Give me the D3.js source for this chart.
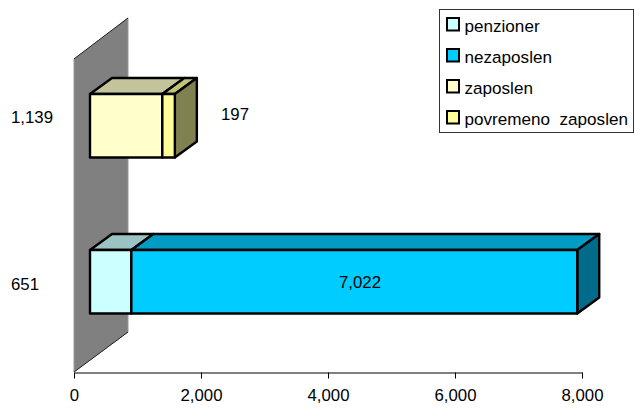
<!DOCTYPE html>
<html><head><meta charset="utf-8">
<script src="https://d3js.org/d3.v7.min.js"></script>
<style>html,body{margin:0;padding:0;background:#fff}svg{display:block}text{font-family:"Liberation Sans",Arial,sans-serif;font-size:16.8px;fill:#000}</style>
</head><body><script>
const categories=["top","bottom"];
const seriesNames=["penzioner","nezaposlen","zaposlen","povremeno  zaposlen"];
const penzioner=[0,651];
const nezaposlen=[0,7022];
const zaposlen=[1139,0];
const povremeno=[197,0];
const tickValues=[0,2000,4000,6000,8000];
const front=["#ccffff","#00ccff","#ffffcc","#ffff99"];
const topc=["#9cc3c3","#009cc3","#c3c39c","#c3c375"];
const side=["#7a9999","#006b8a","#808050","#808050"];
const values=[penzioner,nezaposlen,zaposlen,povremeno];

const svg=d3.select("body").append("svg").attr("width",634).attr("height",409);
const x=d3.scaleLinear().domain([0,8000]).range([74,582]);
const y=d3.scaleBand().domain(categories).range([48,360]);
const dx=22,dy=-16,barX=16,barH=63.5;
const line=d3.line();

// wall
svg.append("path").attr("d",line([[74,59],[128,18],[128,332],[74,372]])+"Z")
  .attr("fill","#808080").attr("stroke","#999").attr("stroke-width",1);
svg.append("path").attr("d",line([[74,59],[128,18]])).attr("stroke","#222").attr("fill","none");
svg.append("path").attr("d",line([[128,332],[74,372]])).attr("stroke","#222").attr("fill","none");

// bars
categories.forEach((c,ci)=>{
  let cum=0;
  const yt=Math.round(y(c)+(y.bandwidth()-barH)/2);
  const segs=[];
  values.forEach((v,si)=>{ if(v[ci]>0){segs.push({si,a:cum,b:cum+v[ci]});cum+=v[ci];}});
  const g=svg.append("g").attr("stroke","#000").attr("stroke-width",2.4).attr("stroke-linejoin","round");
  segs.forEach(s=>{
    const x0=x(s.a)+barX,x1=x(s.b)+barX;
    g.append("path").attr("d",line([[x0,yt],[x0+dx,yt+dy],[x1+dx,yt+dy],[x1,yt]])+"Z").attr("fill",topc[s.si]);
  });
  const last=segs[segs.length-1],xe=x(last.b)+barX;
  g.append("path").attr("d",line([[xe,yt],[xe+dx,yt+dy],[xe+dx,yt+dy+barH],[xe,yt+barH]])+"Z").attr("fill",side[last.si]);
  segs.forEach(s=>{
    const x0=x(s.a)+barX,x1=x(s.b)+barX;
    g.append("rect").attr("x",x0).attr("y",yt).attr("width",x1-x0).attr("height",barH).attr("fill",front[s.si]);
  });
});

// labels
const labelPos=[{t:d3.format(",")(zaposlen[0]),x:32,y:123,a:"middle"},{t:d3.format(",")(povremeno[0]),x:235,y:120,a:"middle"},
 {t:d3.format(",")(penzioner[1]),x:25,y:290,a:"middle"},{t:d3.format(",")(nezaposlen[1]),x:360,y:288,a:"middle"}];
svg.selectAll("text.l").data(labelPos).join("text").attr("class","l").attr("x",d=>d.x).attr("y",d=>d.y).attr("text-anchor",d=>d.a).text(d=>d.t);

// axis
const ax=svg.append("g").attr("transform","translate(0,372.5)")
 .call(d3.axisBottom(x).tickValues(tickValues).tickFormat(d3.format(",")).tickSize(6).tickPadding(10.5).tickSizeOuter(0));
ax.selectAll("path,line").attr("stroke","#000");
ax.selectAll("text").style("font-size","16.8px").style("font-family",'"Liberation Sans",Arial,sans-serif').attr("fill","#000");

// legend
const lg=svg.append("g");
lg.append("rect").attr("x",439.5).attr("y",9.5).attr("width",194).attr("height",123).attr("fill","#fff").attr("stroke","#333");
seriesNames.forEach((n,i)=>{
  const yy=18+i*31;
  lg.append("rect").attr("x",447).attr("y",yy).attr("width",12).attr("height",12.5)
    .attr("fill",front[i]).attr("stroke","#000").attr("stroke-width",2);
  lg.append("text").attr("x",464.5).attr("y",yy+14).style("white-space","pre").style("font-size","17.1px").text(n);
});
</script></body></html>
